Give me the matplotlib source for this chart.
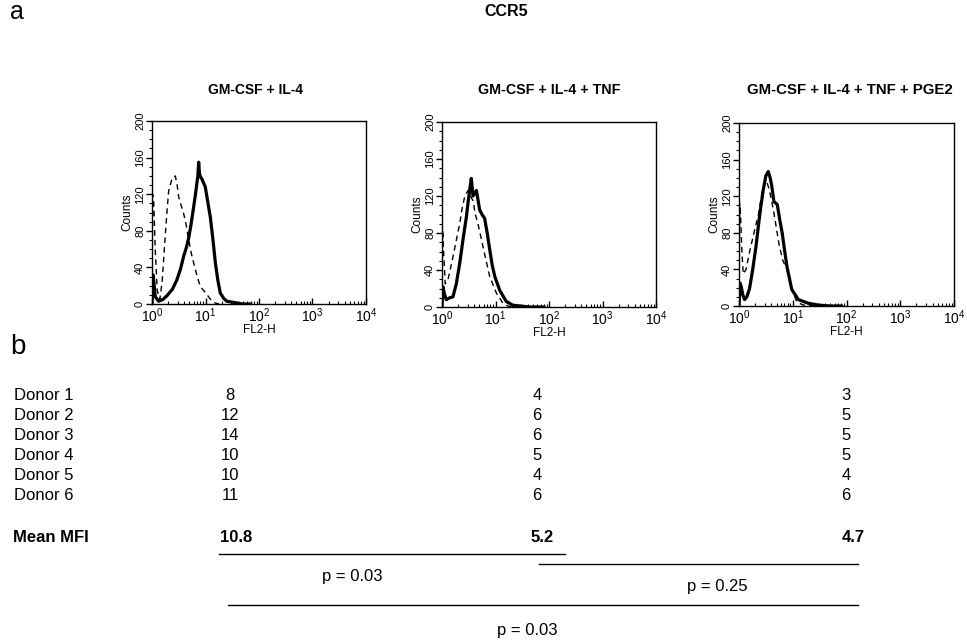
import matplotlib
matplotlib.use("Agg")
import matplotlib.pyplot as plt
from matplotlib.ticker import MultipleLocator, LogLocator, NullFormatter

plt.rcParams['font.family'] = ['Liberation Sans', 'DejaVu Sans']
plt.rcParams['mathtext.default'] = 'regular'

W, H = 967, 641

# ---------------- data ----------------
panel_titles = ["GM-CSF + IL-4", "GM-CSF + IL-4 + TNF", "GM-CSF + IL-4 + TNF + PGE2"]

# panel 1 (GM-CSF + IL-4)
p1_solid_x = [1.0, 1.04, 1.08, 1.15, 1.33, 1.6, 1.9, 2.4, 2.9, 3.4, 3.9, 4.4, 4.85, 5.4, 6.0, 6.5, 6.9, 7.2, 7.45, 7.7, 8.0, 8.5, 9.9, 11.0, 12.3, 13.8, 15.3, 17.0, 18.9, 22.0, 25.0, 32.0, 39.0, 50.0, 70.0]
p1_solid_y = [0, 32, 25, 8, 3, 5, 9, 16, 26, 38, 52, 62, 72, 88, 106, 120, 132, 140, 155, 143, 139, 137, 128, 112, 95, 70, 45, 26, 12, 6, 3, 2, 1, 0, 0]
p1_dash_x = [1.0, 1.03, 1.08, 1.15, 1.25, 1.4, 1.55, 1.7, 1.9, 2.05, 2.37, 2.73, 2.95, 3.15, 3.5, 3.9, 4.4, 4.85, 5.4, 6.0, 7.0, 8.0, 9.5, 10.7, 12.5, 15.3, 18.0]
p1_dash_y = [0, 120, 110, 60, 15, 5, 25, 60, 100, 124, 137, 140, 130, 117, 108, 99, 85, 70, 56, 45, 30, 19, 14, 10, 5, 1, 0]

# panel 2 (GM-CSF + IL-4 + TNF)
p2_solid_x = [1.0, 1.04, 1.1, 1.2, 1.4, 1.6, 1.85, 2.14, 2.5, 2.85, 3.1, 3.29, 3.53, 3.8, 4.08, 4.4, 5.06, 5.6, 6.25, 7.0, 7.8, 8.7, 9.7, 12.0, 15.9, 21.0, 30.0, 43.0, 80.0]
p2_solid_y = [0, 22, 15, 8, 10, 11, 25, 47, 75, 97, 115, 126, 139, 120, 123, 126, 105, 100, 96, 80, 62, 45, 33, 18, 6, 2, 1, 0, 0]
p2_dash_x = [1.0, 1.03, 1.07, 1.15, 1.3, 1.6, 1.85, 2.14, 2.4, 2.65, 3.06, 3.4, 3.8, 4.2, 4.7, 5.85, 6.8, 7.8, 10.4, 13.8, 17.0, 25.0]
p2_dash_y = [0, 83, 60, 25, 30, 54, 72, 90, 108, 119, 126, 120, 115, 100, 90, 65, 48, 33, 15, 4, 1, 0]

# panel 3 (GM-CSF + IL-4 + TNF + PGE2)
p3_solid_x = [1.0, 1.05, 1.1, 1.18, 1.27, 1.4, 1.57, 1.8, 2.07, 2.3, 2.55, 2.85, 3.15, 3.5, 3.8, 4.05, 4.47, 5.15, 5.7, 6.35, 7.0, 7.8, 9.6, 12.7, 19.4, 30.0, 50.0, 80.0]
p3_solid_y = [0, 25, 21, 12, 7, 10, 19, 40, 65, 88, 109, 128, 142, 147, 140, 132, 114, 111, 95, 80, 62, 43, 18, 7, 3, 1, 0, 0]
p3_dash_x = [1.0, 1.03, 1.07, 1.13, 1.2, 1.35, 1.6, 1.9, 2.3, 2.7, 3.0, 3.24, 3.7, 4.2, 4.6, 5.5, 6.5, 7.8, 9.6, 12.0, 16.0, 25.0]
p3_dash_y = [0, 112, 100, 60, 35, 40, 61, 80, 100, 125, 133, 137, 126, 110, 97, 69, 50, 40, 18, 4, 1, 0]

solid_x = [p1_solid_x, p2_solid_x, p3_solid_x]
solid_y = [p1_solid_y, p2_solid_y, p3_solid_y]
dash_x = [p1_dash_x, p2_dash_x, p3_dash_x]
dash_y = [p1_dash_y, p2_dash_y, p3_dash_y]

donors = ["Donor 1", "Donor 2", "Donor 3", "Donor 4", "Donor 5", "Donor 6"]
mfi_il4 = [8, 12, 14, 10, 10, 11]
mfi_tnf = [4, 6, 6, 5, 4, 6]
mfi_pge2 = [3, 5, 5, 5, 4, 6]
mean_mfi = ["10.8", "5.2", "4.7"]
p_values = ["p = 0.03", "p = 0.25", "p = 0.03"]

# ---------------- layout helpers ----------------
fig = plt.figure(figsize=(W / 100, H / 100), dpi=100)
fig.patch.set_facecolor('white')

def fx(x):
    return x / W

def fy(y):
    return 1 - y / H

def add_ax(l, t, r, b):
    return fig.add_axes([fx(l), fy(b), (r - l) / W, (b - t) / H])

boxes = [(152, 121, 366, 304), (442, 122, 656, 307), (739, 123, 954, 306)]
title_x = [256, 549, 850]
title_size = [10, 10.3, 10.8]

for i, (l, t, r, b) in enumerate(boxes):
    ax = add_ax(l, t, r, b)
    ax.plot(dash_x[i], dash_y[i], color='black', lw=1.0, dashes=(4, 3))
    ax.plot(solid_x[i], solid_y[i], color='black', lw=2.3, solid_joinstyle='round')
    ax.set_xscale('log')
    ax.set_xlim(1, 1e4)
    ax.set_ylim(0, 200)
    ax.yaxis.set_major_locator(MultipleLocator(40))
    ax.yaxis.set_minor_locator(MultipleLocator(10))
    ax.xaxis.set_major_locator(LogLocator(base=10, numticks=10))
    ax.xaxis.set_minor_locator(LogLocator(base=10, subs=range(2, 10), numticks=20))
    ax.xaxis.set_minor_formatter(NullFormatter())
    ax.tick_params(axis='y', which='major', direction='out', length=4, width=1, labelsize=8, pad=1)
    ax.tick_params(axis='y', which='minor', direction='out', length=2.5, width=0.8)
    ax.tick_params(axis='x', which='major', direction='in', length=4, width=1, labelsize=10, pad=2)
    ax.tick_params(axis='x', which='minor', direction='in', length=2.5, width=0.8)
    for lab in ax.get_yticklabels():
        lab.set_rotation(90)
        lab.set_va('center')
    for s in ax.spines.values():
        s.set_linewidth(1.0)
    ax.set_xlabel("FL2-H", fontsize=8.5, labelpad=-1)
    ax.set_ylabel("Counts", fontsize=8.5, labelpad=1)
    fig.text(fx(title_x[i]), fy(90), panel_titles[i], ha='center', va='center',
             fontsize=title_size[i], fontweight='bold')

# headings
fig.text(fx(10), fy(12), "a", fontsize=18, ha='left', va='center')
fig.text(fx(506), fy(11), "CCR5", fontsize=11.5, fontweight='bold', ha='center', va='center')
fig.text(fx(10), fy(347), "b", fontsize=20, ha='left', va='center')

# table
row_y = [395, 415, 435, 455, 475, 495]
col_x = [230, 537, 846]
mean_x = [220, 531, 842]
cols = [mfi_il4, mfi_tnf, mfi_pge2]
for k, d in enumerate(donors):
    fig.text(fx(14), fy(row_y[k]), d, fontsize=12, ha='left', va='center')
    for c in range(3):
        fig.text(fx(col_x[c]), fy(row_y[k]), str(cols[c][k]), fontsize=12, ha='center', va='center')
fig.text(fx(13), fy(537), "Mean MFI", fontsize=12, fontweight='bold', ha='left', va='center')
for c in range(3):
    fig.text(fx(mean_x[c]), fy(537), mean_mfi[c], fontsize=12, fontweight='bold', ha='left', va='center')

# significance lines
lines = [((219, 565), 554), ((539, 858), 564), ((228, 858), 605)]
plabels = [(352, 577), (717, 586), (527, 630)]
for ((x0, x1), yy) in lines:
    fig.add_artist(plt.Line2D([fx(x0), fx(x1)], [fy(yy), fy(yy)], color='black', lw=1.0,
                              transform=fig.transFigure))
for (px, py), txt in zip(plabels, p_values):
    fig.text(fx(px), fy(py), txt, fontsize=12, ha='center', va='center')

fig.savefig("out.png", dpi=100, facecolor='white')
